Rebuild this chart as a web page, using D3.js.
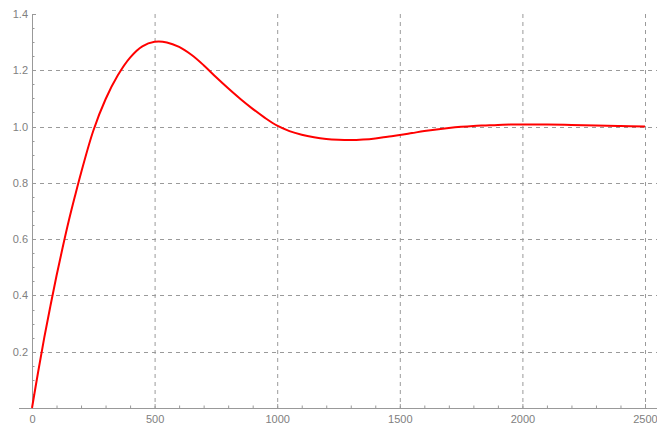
<!DOCTYPE html>
<html>
<head>
<meta charset="utf-8">
<script src="https://cdn.jsdelivr.net/npm/d3@7"></script>
<style>
  html, body { margin: 0; padding: 0; background: #fff; }
  svg { display: block; }
  .tick-label { font-family: "Liberation Sans", Arial, sans-serif; font-size: 11px; fill: #808080; }
</style>
</head>
<body>
<svg id="chart" width="657" height="426"></svg>
<script>
// Step response samples: time and output
const times = [0, 25, 50, 75, 100, 125, 150, 175, 200, 250, 300, 350, 400, 450, 500, 550, 600, 650, 700, 750, 800, 850, 900, 950, 1000, 1050, 1100, 1150, 1200, 1250, 1300, 1350, 1400, 1450, 1500, 1550, 1600, 1650, 1700, 1750, 1800, 1850, 1900, 1950, 2000, 2100, 2200, 2300, 2400, 2500];
const response = [0, 0.128, 0.25, 0.362, 0.47, 0.57, 0.665, 0.752, 0.835, 0.985, 1.097, 1.182, 1.245, 1.285, 1.301, 1.299, 1.283, 1.255, 1.218, 1.176, 1.136, 1.098, 1.063, 1.031, 1.003, 0.984, 0.971, 0.962, 0.956, 0.953, 0.952, 0.954, 0.958, 0.964, 0.970, 0.977, 0.984, 0.990, 0.995, 0.999, 1.002, 1.004, 1.006, 1.007, 1.0075, 1.0075, 1.006, 1.004, 1.002, 1.0005];

const xMajorTicks = [0, 500, 1000, 1500, 2000, 2500];
const xMinorTicks = d3.range(0, 2501, 100).filter(v => v % 500 !== 0);
const yMajorTicks = [0.2, 0.4, 0.6, 0.8, 1.0, 1.2, 1.4];
const yMinorTicks = d3.range(0.05, 1.4, 0.05).filter(v => Math.abs(v / 0.2 - Math.round(v / 0.2)) > 1e-6);
const xGrid = [500, 1000, 1500, 2000, 2500];
const yGrid = [0.2, 0.4, 0.6, 0.8, 1.0, 1.2];

const svg = d3.select("#chart");
const x = d3.scaleLinear().domain([0, 2500]).range([32, 645]);
const y = d3.scaleLinear().domain([0, 1.4]).range([408, 14]);

const axisColor = "#999";
const gridColor = "#9a9a9a";

// dashed grid
svg.append("g").selectAll("line").data(xGrid).join("line")
  .attr("x1", d => x(d) + 0.5).attr("x2", d => x(d) + 0.5)
  .attr("y1", y(1.4)).attr("y2", y(0))
  .attr("stroke", gridColor).attr("stroke-width", 1).attr("stroke-dasharray", "4,4");
svg.append("g").selectAll("line").data(yGrid).join("line")
  .attr("x1", x(0)).attr("x2", 657)
  .attr("y1", d => Math.round(y(d)) + 0.5).attr("y2", d => Math.round(y(d)) + 0.5)
  .attr("stroke", gridColor).attr("stroke-width", 1).attr("stroke-dasharray", "4,4");

// axis lines
svg.append("line").attr("x1", 19).attr("x2", 657)
  .attr("y1", y(0) + 0.5).attr("y2", y(0) + 0.5)
  .attr("stroke", axisColor).attr("stroke-width", 1);
svg.append("line").attr("x1", x(0) + 0.5).attr("x2", x(0) + 0.5)
  .attr("y1", y(1.4)).attr("y2", y(0))
  .attr("stroke", axisColor).attr("stroke-width", 1);

// x ticks (pointing into the plot)
svg.append("g").selectAll("line").data(xMajorTicks).join("line")
  .attr("x1", d => x(d) + 0.5).attr("x2", d => x(d) + 0.5)
  .attr("y1", y(0)).attr("y2", y(0) - 4)
  .attr("stroke", axisColor);
svg.append("g").selectAll("line").data(xMinorTicks).join("line")
  .attr("x1", d => x(d) + 0.5).attr("x2", d => x(d) + 0.5)
  .attr("y1", y(0)).attr("y2", y(0) - 2.5)
  .attr("stroke", axisColor);

// y ticks
svg.append("g").selectAll("line").data(yMajorTicks).join("line")
  .attr("x1", x(0)).attr("x2", x(0) + 4)
  .attr("y1", d => Math.round(y(d)) + 0.5).attr("y2", d => Math.round(y(d)) + 0.5)
  .attr("stroke", axisColor);
svg.append("g").selectAll("line").data(yMinorTicks).join("line")
  .attr("x1", x(0)).attr("x2", x(0) + 2.5)
  .attr("y1", d => Math.round(y(d)) + 0.5).attr("y2", d => Math.round(y(d)) + 0.5)
  .attr("stroke", axisColor);

// tick labels
svg.append("g").selectAll("text").data(xMajorTicks).join("text")
  .attr("class", "tick-label")
  .attr("x", d => x(d) + 0.5).attr("y", 423)
  .attr("text-anchor", "middle")
  .text(d => d);
svg.append("g").selectAll("text").data(yMajorTicks).join("text")
  .attr("class", "tick-label")
  .attr("x", 28).attr("y", d => y(d) + 4)
  .attr("text-anchor", "end")
  .text(d => d.toFixed(1));

// response curve
const line = d3.line()
  .x((d, i) => x(times[i]))
  .y(d => y(d))
  .curve(d3.curveCatmullRom.alpha(0.5));
svg.append("path")
  .datum(response)
  .attr("d", line)
  .attr("fill", "none")
  .attr("stroke", "#ff0000")
  .attr("stroke-width", 2)
  .attr("stroke-linejoin", "round");
</script>
</body>
</html>
